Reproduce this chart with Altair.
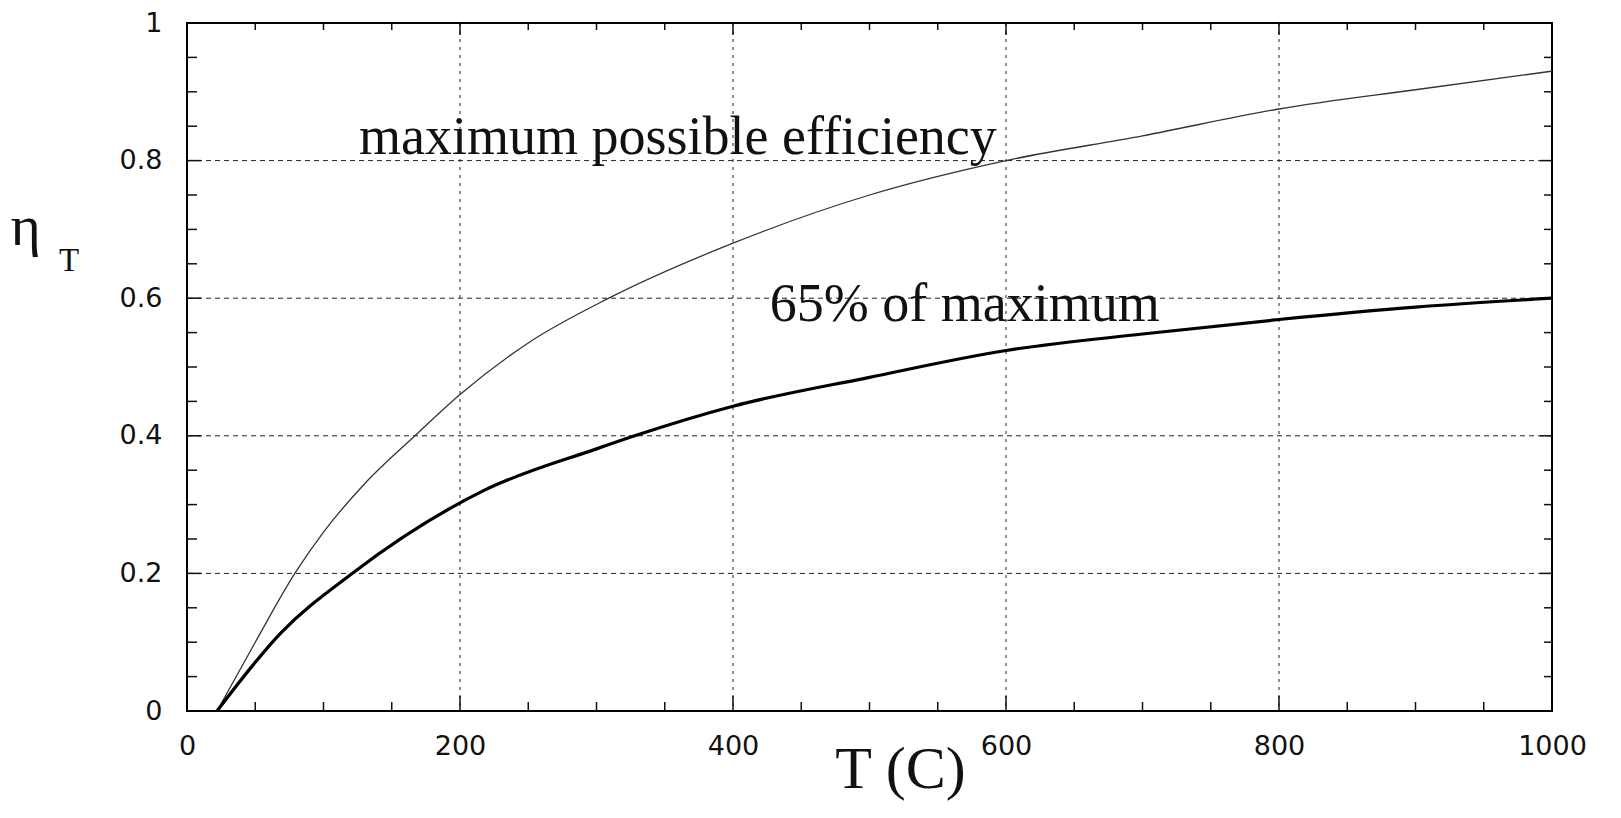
import altair as alt
import pandas as pd

# ---- data ----
T_max = [22, 50, 79, 100, 130, 167, 200, 250, 309, 400, 500, 600, 700, 800, 900, 1000]
eta_max = [0.0, 0.10, 0.20, 0.26, 0.33, 0.40, 0.46, 0.535, 0.60, 0.68, 0.75, 0.80, 0.836, 0.875, 0.903, 0.93]

T_65 = [22, 69, 121, 218, 300, 328, 400, 500, 600, 700, 800, 900, 1000]
eta_65 = [0.0, 0.114, 0.20, 0.321, 0.381, 0.40, 0.443, 0.485, 0.524, 0.548, 0.569, 0.587, 0.60]

x_ticks = [0, 200, 400, 600, 800, 1000]
y_ticks = [0, 0.2, 0.4, 0.6, 0.8, 1.0]
x_grid = [200, 400, 600, 800]
y_grid = [0.2, 0.4, 0.6, 0.8]
x_minor = [50, 100, 150, 250, 300, 350, 450, 500, 550, 650, 700, 750, 850, 900, 950]
y_minor = [0.05, 0.1, 0.15, 0.25, 0.3, 0.35, 0.45, 0.5, 0.55, 0.65, 0.7, 0.75, 0.85, 0.9, 0.95]

ann_text = ["maximum possible efficiency", "65% of maximum"]
ann_T = [126, 427]
ann_eta = [0.81, 0.567]

# ---- layout ----
W, H = 1365, 688
INK = "#111111"
xs = alt.Scale(domain=[0, 1000], nice=False, zero=False)
ys = alt.Scale(domain=[0, 1], nice=False, zero=False)

XAXIS = alt.Axis(
    values=x_ticks, format="d", grid=False, ticks=False, domain=False,
    labelFont="DejaVu Sans", labelFontSize=27, labelColor=INK,
    labelPadding=22, labelFlush=False, labelOverlap=False,
    title="T (C)", titleFont="Liberation Serif", titleFontSize=60,
    titleFontWeight="normal", titleColor=INK, titleX=713, titleY=76,
    titleAlign="center", titleBaseline="alphabetic",
)
YAXIS = alt.Axis(
    values=y_ticks, format="~g", grid=False, ticks=False, domain=False,
    labelFont="DejaVu Sans", labelFontSize=27, labelColor=INK,
    labelPadding=25, labelFlush=False, labelOverlap=False,
    title="η", titleFont="Liberation Serif", titleFontSize=58,
    titleFontWeight="normal", titleColor=INK, titleAngle=0,
    titleX=-177, titleY=221, titleAlign="left", titleBaseline="alphabetic",
)


def X(field):
    return alt.X(field, scale=xs, axis=XAXIS)


def Y(field):
    return alt.Y(field, scale=ys, axis=YAXIS)


df_max = pd.DataFrame({"T": T_max, "eta": eta_max})
df_65 = pd.DataFrame({"T": T_65, "eta": eta_65})
df_ann = pd.DataFrame({"T": ann_T, "eta": ann_eta, "label": ann_text})

grid_v = alt.Chart(pd.DataFrame({"v": x_grid})).mark_rule(
    color="#222222", strokeWidth=1, strokeDash=[3, 5]
).encode(x=X("v:Q"))

grid_h = alt.Chart(pd.DataFrame({"v": y_grid})).mark_rule(
    color="#222222", strokeWidth=1, strokeDash=[5, 4]
).encode(y=Y("v:Q"))


def xticks(vals, length, top):
    c = alt.Chart(pd.DataFrame({"v": vals})).mark_rule(color=INK, strokeWidth=1.5)
    if top:
        return c.encode(x=X("v:Q"), y=alt.value(0), y2=alt.value(length))
    return c.encode(x=X("v:Q"), y=alt.value(H), y2=alt.value(H - length))


def yticks(vals, length, right):
    c = alt.Chart(pd.DataFrame({"v": vals})).mark_rule(color=INK, strokeWidth=1.5)
    if right:
        return c.encode(y=Y("v:Q"), x=alt.value(W), x2=alt.value(W - length))
    return c.encode(y=Y("v:Q"), x=alt.value(0), x2=alt.value(length))


tick_layers = [
    xticks(x_grid, 15, False), xticks(x_minor, 9, False),
    xticks(x_grid, 12, True), xticks(x_minor, 7, True),
    yticks(y_grid, 14, False), yticks(y_minor, 10, False),
    yticks(y_grid, 12, True), yticks(y_minor, 8, True),
]

line_max = alt.Chart(df_max).mark_line(
    color="#333333", strokeWidth=1.3, interpolate="monotone"
).encode(x=X("T:Q"), y=Y("eta:Q"))

line_65 = alt.Chart(df_65).mark_line(
    color="#000000", strokeWidth=3.2, interpolate="monotone"
).encode(x=X("T:Q"), y=Y("eta:Q"))

ann = alt.Chart(df_ann).mark_text(
    align="left", baseline="alphabetic", font="Liberation Serif", fontSize=54, color=INK
).encode(x=X("T:Q"), y=Y("eta:Q"), text="label:N")

sub_T = alt.Chart(pd.DataFrame({"s": ["T"]})).mark_text(
    align="left", baseline="alphabetic", font="Liberation Serif", fontSize=33, color=INK
).encode(x=alt.value(-128), y=alt.value(248), text="s:N")

chart = alt.layer(
    grid_v, grid_h, *tick_layers, line_max, line_65, ann, sub_T
).properties(
    width=W, height=H,
    autosize=alt.AutoSizeParams(type="none"),
    padding={"left": 179, "top": 15, "right": 40, "bottom": 94},
    background="white",
).configure_view(stroke="black", strokeWidth=2)

chart.save("out.html", embed_options={"renderer": "svg", "actions": False})
